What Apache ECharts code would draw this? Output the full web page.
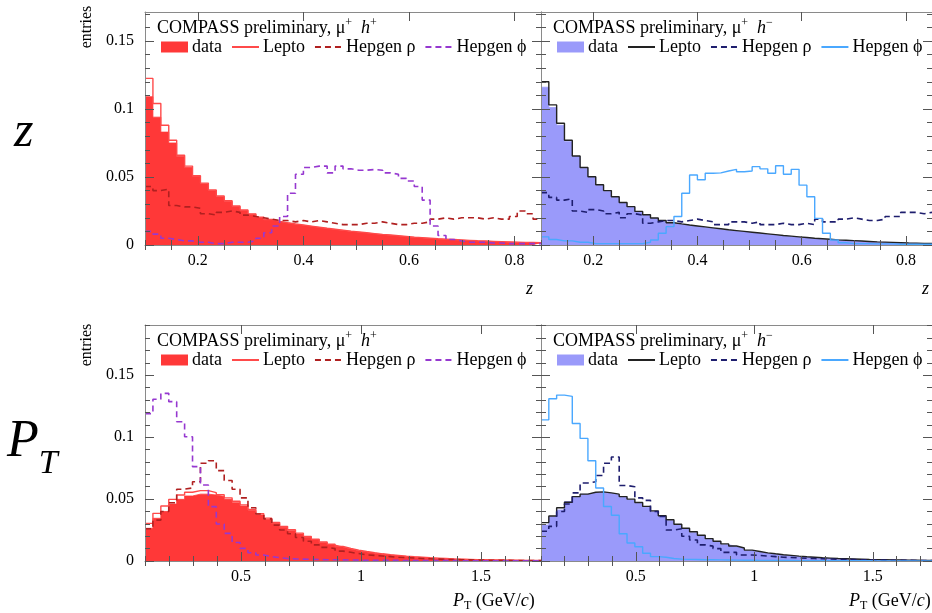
<!DOCTYPE html>
<html><head><meta charset="utf-8">
<script src="https://cdn.jsdelivr.net/npm/echarts@6/dist/echarts.min.js"></script>
<style>html,body{margin:0;padding:0;background:#fff}#c{width:932px;height:613px}</style>
</head><body><div id="c"></div>
<script>
// ---- binning / ticks ----
const zBinStart = 0.1, zBinWidth = 0.015;
const ptBinStart = 0.1, ptBinWidth = 0.033;
const zTickLabels = [0.2, 0.4, 0.6, 0.8];
const ptTickLabels = [0.5, 1, 1.5];
const yTickLabels = [0, 0.05, 0.1, 0.15];

// ---- z distributions, mu+ h+ ----
const zDataHp = [0.109,0.094,0.083,0.075,0.065,0.057,0.0505,0.045,0.040,0.0355,
 0.032,0.0283,0.0253,0.0226,0.0202,0.0185,0.0172,0.0162,0.0153,0.0145,
 0.0137,0.0129,0.0121,0.0114,0.0107,0.0100,0.0094,0.0088,0.0082,0.0076,
 0.0071,0.0066,0.0061,0.0056,0.0052,0.0048,0.0044,0.0041,0.0038,0.0035,
 0.0032,0.0029,0.0027,0.0025,0.0023,0.0021,0.0019,0.0017,0.0016,0.0014];
const zLeptoHp = [0.1225,0.104,0.088,0.077,0.066,0.058,0.051,0.0455,0.0405,0.036,
 0.0325,0.0287,0.0257,0.0229,0.0205,0.0188,0.0174,0.0164,0.0155,0.0147,
 0.0139,0.0131,0.0123,0.0116,0.0109,0.0102,0.0096,0.0090,0.0084,0.0078,
 0.0073,0.0068,0.0063,0.0058,0.0054,0.0050,0.0046,0.0043,0.0040,0.0037,
 0.0034,0.0031,0.0029,0.0027,0.0025,0.0023,0.0021,0.0019,0.0018,0.0016];
const zRhoHp = [0.043,0.040,0.041,0.029,0.028,0.028,0.027,0.023,0.022,0.024,
 0.025,0.024,0.022,0.021,0.020,0.019,0.018,0.018,0.017,0.018,
 0.017,0.018,0.017,0.016,0.015,0.015,0.015,0.016,0.016,0.017,
 0.016,0.015,0.015,0.016,0.016,0.017,0.019,0.020,0.019,0.020,
 0.020,0.020,0.019,0.020,0.019,0.019,0.021,0.025,0.023,0.019];
const zPhiHp = [0.010,0.008,0.005,0.004,0.003,0.003,0.002,0.002,0.001,0.001,
 0.002,0.002,0.002,0.003,0.005,0.009,0.014,0.021,0.038,0.052,
 0.057,0.058,0.058,0.053,0.058,0.056,0.055,0.055,0.0555,0.055,
 0.053,0.052,0.049,0.047,0.043,0.033,0.014,0.007,0.004,0.003,
 0.002,0.002,0.002,0.0015,0.0015,0.001,0.001,0.001,0.001,0.001];

// ---- z distributions, mu+ h- ----
const zDataHm = [0.116,0.101,0.088,0.076,0.065,0.0565,0.050,0.044,0.0395,0.035,
 0.031,0.028,0.0245,0.022,0.0196,0.0178,0.0162,0.0152,0.0144,0.0137,
 0.0130,0.0123,0.0116,0.0109,0.0103,0.0097,0.0091,0.0085,0.0079,0.0073,
 0.0067,0.0062,0.0057,0.0052,0.0047,0.0043,0.0039,0.0035,0.0032,0.0029,
 0.0026,0.0024,0.0021,0.0019,0.0017,0.0015,0.0013,0.0012,0.0010,0.0009];
const zLeptoHm = [0.120,0.103,0.0895,0.077,0.0654,0.057,0.0502,0.0443,0.040,0.0355,
 0.0312,0.0282,0.0247,0.0222,0.0198,0.018,0.0164,0.0155,0.0147,0.0140,
 0.0133,0.0126,0.0119,0.0112,0.0106,0.0100,0.0094,0.0088,0.0082,0.0076,
 0.0070,0.0065,0.0060,0.0055,0.0050,0.0046,0.0042,0.0038,0.0035,0.0032,
 0.0029,0.0026,0.0023,0.0021,0.0019,0.0017,0.0015,0.0014,0.0012,0.0011];
const zRhoHm = [0.0385,0.035,0.033,0.034,0.025,0.024,0.026,0.025,0.023,0.024,
 0.020,0.023,0.022,0.016,0.017,0.018,0.018,0.017,0.018,0.019,
 0.018,0.017,0.015,0.015,0.017,0.017,0.016,0.017,0.015,0.015,
 0.016,0.015,0.015,0.016,0.015,0.019,0.017,0.017,0.019,0.020,
 0.019,0.018,0.018,0.019,0.021,0.021,0.024,0.024,0.023,0.024];
const zPhiHm = [0.006,0.004,0.003,0.003,0.002,0.002,0.001,0.001,0.001,0.001,
 0.001,0.001,0.001,0.002,0.0037,0.0086,0.0135,0.021,0.038,0.0515,
 0.048,0.0527,0.053,0.0544,0.0556,0.0539,0.0544,0.0576,0.056,0.0527,
 0.0583,0.052,0.0556,0.044,0.0355,0.0196,0.0086,0.0037,0.0017,0.001,
 0.001,0.001,0.0008,0.0008,0.0008,0.0006,0.0006,0.0006,0.0005,0.0005];

// ---- PT distributions, mu+ h+ ----
const ptDataHp = [0.0264,0.0345,0.040,0.046,0.0498,0.0525,0.054,0.054,0.0533,0.052,
 0.0498,0.0471,0.0444,0.0407,0.0372,0.0337,0.0304,0.0272,0.0245,0.0218,
 0.0191,0.017,0.0148,0.0129,0.0113,0.0097,0.0083,0.0073,0.0063,0.0055,
 0.0048,0.0042,0.0037,0.0032,0.0028,0.0024,0.0021,0.0018,0.0016,0.0014,
 0.0012,0.0010,0.0009,0.0008,0.0007,0.0006,0.0005,0.0005,0.0004,0.0004];
const ptLeptoHp = [0.0304,0.0385,0.0444,0.0498,0.0533,0.0555,0.0568,0.0568,0.0552,0.0535,
 0.051,0.0482,0.0453,0.0416,0.0381,0.0346,0.0312,0.0280,0.0252,0.0225,
 0.0198,0.0176,0.0154,0.0135,0.0118,0.0102,0.0088,0.0077,0.0067,0.0058,
 0.0051,0.0045,0.0039,0.0034,0.0030,0.0026,0.0023,0.0020,0.0017,0.0015,
 0.0013,0.0011,0.0010,0.0009,0.0008,0.0007,0.0006,0.0005,0.0005,0.0004];
const ptRhoHp = [0.026,0.033,0.040,0.047,0.058,0.059,0.064,0.079,0.081,0.073,
 0.065,0.058,0.051,0.043,0.038,0.034,0.029,0.025,0.022,0.019,
 0.016,0.013,0.011,0.010,0.008,0.007,0.006,0.005,0.0045,0.004,
 0.0035,0.003,0.0027,0.0024,0.002,0.0018,0.0015,0.0013,0.0012,0.001,
 0.0009,0.0008,0.0007,0.0006,0.0005,0.0005,0.0004,0.0004,0.0003,0.0003];
const ptPhiHp = [0.119,0.1306,0.1354,0.1287,0.1125,0.1004,0.0762,0.0614,0.0439,0.0299,
 0.0223,0.015,0.0102,0.0067,0.0048,0.0035,0.0027,0.002,0.0017,0.0015,
 0.0013,0.0012,0.001,0.001,0.0009,0.0008,0.0007,0.0006,0.0006,0.0005,
 0.0005,0.0005,0.0004,0.0004,0.0004,0.0003,0.0003,0.0003,0.0003,0.0002,
 0.0002,0.0002,0.0002,0.0002,0.0002,0.0002,0.0001,0.0001,0.0001,0.0001];

// ---- PT distributions, mu+ h- ----
const ptDataHm = [0.029,0.0358,0.0412,0.048,0.0514,0.0539,0.0552,0.0557,0.0547,0.0533,
 0.0514,0.0493,0.0466,0.0434,0.0398,0.0358,0.0326,0.029,0.0258,0.0229,
 0.0202,0.0175,0.0153,0.0132,0.0116,0.010,0.0083,0.0073,0.0062,0.0054,
 0.0047,0.0041,0.0036,0.0031,0.0027,0.0023,0.0020,0.0018,0.0016,0.0014,
 0.0012,0.0011,0.0010,0.0009,0.0008,0.0007,0.0006,0.0005,0.0005,0.0004];
const ptLeptoHm = [0.031,0.0363,0.043,0.0475,0.052,0.054,0.0555,0.0558,0.055,0.054,
 0.052,0.050,0.0473,0.0441,0.0405,0.0366,0.0333,0.0297,0.0265,0.0236,
 0.0208,0.0181,0.0159,0.0138,0.0121,0.0105,0.0088,0.0077,0.0066,0.0058,
 0.0051,0.0045,0.0039,0.0034,0.0030,0.0026,0.0023,0.0020,0.0018,0.0016,
 0.0014,0.0012,0.0011,0.0010,0.0009,0.0008,0.0007,0.0006,0.0005,0.0005];
const ptRhoHm = [0.024,0.028,0.040,0.046,0.055,0.063,0.064,0.069,0.079,0.084,
 0.061,0.060,0.051,0.049,0.040,0.036,0.025,0.026,0.020,0.017,
 0.013,0.012,0.010,0.007,0.007,0.0048,0.0048,0.0045,0.004,0.0035,
 0.003,0.0028,0.0025,0.0022,0.002,0.0018,0.0016,0.0014,0.0012,0.0011,
 0.001,0.0009,0.0008,0.0007,0.0006,0.0005,0.0005,0.0004,0.0004,0.0003];
const ptPhiHm = [0.114,0.131,0.134,0.133,0.111,0.099,0.081,0.059,0.044,0.037,
 0.022,0.0145,0.0115,0.0062,0.0035,0.003,0.002,0.0015,0.0013,0.0012,
 0.001,0.001,0.0009,0.0008,0.0007,0.0006,0.0006,0.0005,0.0005,0.0004,
 0.0004,0.0004,0.0003,0.0003,0.0003,0.0003,0.0002,0.0002,0.0002,0.0002,
 0.0002,0.0002,0.0001,0.0001,0.0001,0.0001,0.0001,0.0001,0.0001,0.0001];

// ---- styling / layout ----
const SERIF = 'Liberation Serif';
const panels = [
  {left:145, top:12,  height:233, xmin:0.1, xmax:0.85, ymax:0.1713, bs:zBinStart, bw:zBinWidth, ticks:zTickLabels, xminorStep:0.05,
   sets:[zDataHp,zLeptoHp,zRhoHp,zPhiHp], charge:'+', colors:['#ff3838','#ff4a4a','#b02020','#9638d0'], phiDash:true},
  {left:541, top:12,  height:233, xmin:0.1, xmax:0.85, ymax:0.1713, bs:zBinStart, bw:zBinWidth, ticks:zTickLabels, xminorStep:0.05,
   sets:[zDataHm,zLeptoHm,zRhoHm,zPhiHm], charge:'\u2212', colors:['#9a9afa','#222222','#1e1e6e','#4aa8ff'], phiDash:false},
  {left:145, top:325, height:236, xmin:0.1, xmax:1.75, ymax:0.1906, bs:ptBinStart, bw:ptBinWidth, ticks:ptTickLabels, xminorStep:0.1,
   sets:[ptDataHp,ptLeptoHp,ptRhoHp,ptPhiHp], charge:'+', colors:['#ff3838','#ff4a4a','#b02020','#9638d0'], phiDash:true},
  {left:541, top:325, height:236, xmin:0.1, xmax:1.75, ymax:0.1906, bs:ptBinStart, bw:ptBinWidth, ticks:ptTickLabels, xminorStep:0.1,
   sets:[ptDataHm,ptLeptoHm,ptRhoHm,ptPhiHm], charge:'\u2212', colors:['#9a9afa','#222222','#1e1e6e','#4aa8ff'], phiDash:false}
];
const legendLabels = ['data','Lepto','Hepgen \u03c1','Hepgen \u03d5'];
const PW = 396;

function histPoints(start, width, vals) {
  const pts = vals.map((v, i) => [start + i * width, v]);
  pts.push([start + vals.length * width, vals[vals.length - 1]]);
  return pts;
}
function range(a, b, step) { const r = []; for (let v = a; v <= b + 1e-9; v += step) r.push(+v.toFixed(4)); return r; }

const grid = [], xAxis = [], yAxis = [], series = [], legend = [], graphic = [];
const tickColor = '#555', frameColor = '#8a8a8a';
const nameMap = {};
const NOCOL = 'rgba(0,0,0,0)';

panels.forEach((p, gi) => {
  grid.push({left:p.left, top:p.top, width:PW, height:p.height, show:false});
  const xMajor = p.ticks;
  const xMinor = range(p.xmin, p.xmax, p.xminorStep).filter(v => !xMajor.some(m => Math.abs(m - v) < 1e-6));
  const yMajor = yTickLabels;
  const yMinor = range(0.01, p.ymax, 0.01).filter(v => !yMajor.some(m => Math.abs(m - v) < 1e-6));
  const base = {type:'value', gridIndex:gi, splitLine:{show:false}, z:10, silent:true};
  const xi = xAxis.length;
  ['bottom','top'].forEach(pos => {
    xAxis.push(Object.assign({}, base, {min:p.xmin, max:p.xmax, position:pos,
      axisLine:{show:true, onZero:false, lineStyle:{color:frameColor, width:1}},
      axisTick:{show:true, inside:true, length:9, customValues:xMajor, lineStyle:{color:tickColor}},
      axisLabel:{show:pos === 'bottom', customValues:xMajor, margin:8, color:'#000', fontFamily:SERIF, fontSize:16,
        formatter: v => String(v)}}));
    xAxis.push(Object.assign({}, base, {min:p.xmin, max:p.xmax, position:pos,
      axisLine:{show:false},
      axisTick:{show:true, inside:true, length:5, customValues:xMinor, lineStyle:{color:tickColor}},
      axisLabel:{show:false}}));
  });
  const yi = yAxis.length;
  ['left','right'].forEach(pos => {
    yAxis.push(Object.assign({}, base, {min:0, max:p.ymax, position:pos,
      axisLine:{show:true, onZero:false, lineStyle:{color:frameColor, width:1}},
      axisTick:{show:true, inside:true, length:9, customValues:yMajor, lineStyle:{color:tickColor}},
      axisLabel:{show:pos === 'left' && gi % 2 === 0, customValues:yMajor, margin:11, color:'#000', fontFamily:SERIF, fontSize:16,
        showMinLabel:true, formatter: v => String(v)}}));
    yAxis.push(Object.assign({}, base, {min:0, max:p.ymax, position:pos,
      axisLine:{show:false},
      axisTick:{show:true, inside:true, length:5, customValues:yMinor, lineStyle:{color:tickColor}},
      axisLabel:{show:false}}));
  });
  const names = legendLabels.map((l, k) => 'p' + gi + '_' + k);
  names.forEach((n, k) => nameMap[n] = legendLabels[k]);
  p.sets.forEach((vals, k) => {
    const s = {name:names[k], type:'line', step:'end', xAxisIndex:xi, yAxisIndex:yi, symbol:'none', silent:true,
      data: histPoints(p.bs, p.bw, vals), color:p.colors[k], animation:false, z:2 + k};
    if (k === 0) {
      s.lineStyle = {width:0.8, color:p.colors[0]};
      s.areaStyle = {color:p.colors[0], opacity:1};
    } else if (k === 1) {
      s.lineStyle = {width:1.4, color:p.colors[1]};
    } else if (k === 2 || (k === 3 && p.phiDash)) {
      s.lineStyle = {width:1.6, type:[6,4], color:p.colors[k]};
    } else {
      s.lineStyle = {width:1.4, color:p.colors[k]};
    }
    series.push(s);
  });
  legend.push({left:p.left + 16, top:p.top + 26, orient:'horizontal', itemWidth:27, itemHeight:11, itemGap:9,
    selectedMode:false, padding:0,
    itemStyle:{color:NOCOL, borderColor:NOCOL, borderWidth:0},
    textStyle:{fontFamily:SERIF, fontSize:18, color:'#000', padding:[0,0,0,-1]},
    formatter: n => nameMap[n],
    data:[{name:names[0], icon:'rect', itemStyle:{color:p.colors[0], borderWidth:0}},
          {name:names[1]}, {name:names[2]}, {name:names[3]}]});
  // legend header
  graphic.push({type:'text', left:p.left + 12, top:p.top + 5, silent:true,
    style:{text:'{a|COMPASS preliminary, \u03bc}{s|+}{a|  }{i|h}{s|' + p.charge + '}',
      rich:{a:{fontFamily:SERIF, fontSize:18, lineHeight:22, fill:'#000'},
            i:{fontFamily:SERIF, fontSize:18, fontStyle:'italic', lineHeight:22, fill:'#000'},
            s:{fontFamily:SERIF, fontSize:12, lineHeight:12, verticalAlign:'top', fill:'#000'}}}});
});

// axis titles
[145, 541].forEach(l => {
  graphic.push({type:'text', left:l + 381, top:280, silent:true,
    style:{text:'z', font:'italic 18px "Liberation Serif"', fill:'#000'}});
  graphic.push({type:'text', left:l + 308, top:592, silent:true,
    style:{text:'{p|P}{t|T}{a| (GeV/}{c|c}{a|)}',
      rich:{p:{fontFamily:SERIF, fontSize:18, fontStyle:'italic', lineHeight:22, fill:'#000'},
            t:{fontFamily:SERIF, fontSize:12, lineHeight:12, verticalAlign:'bottom', fill:'#000'},
            a:{fontFamily:SERIF, fontSize:18, lineHeight:22, fill:'#000'},
            c:{fontFamily:SERIF, fontSize:18, fontStyle:'italic', lineHeight:22, fill:'#000'}}}});
});
// y titles
[[87, 27], [87, 345]].forEach(([x, y]) => {
  graphic.push({type:'text', x:x, y:y, rotation:Math.PI / 2, silent:true,
    style:{text:'entries', font:'16px "Liberation Serif"', fill:'#000', align:'center', verticalAlign:'middle'}});
});
// row labels
graphic.push({type:'text', left:14, top:108, silent:true,
  style:{text:'z', font:'italic 50px "Liberation Serif"', fill:'#000'}});
graphic.push({type:'text', left:7, top:416, silent:true,
  style:{text:'{p|P}{t|T}', rich:{p:{fontFamily:SERIF, fontSize:52, fontStyle:'italic', lineHeight:58, fill:'#000'},
    t:{fontFamily:SERIF, fontSize:34, fontStyle:'italic', lineHeight:34, verticalAlign:'bottom', fill:'#000', padding:[0,0,-10,0]}}}});

const chart = echarts.init(document.getElementById('c'), null, {renderer:'canvas'});
chart.setOption({animation:false, backgroundColor:'#fff', grid, xAxis, yAxis, series, legend, graphic});
</script></body></html>
